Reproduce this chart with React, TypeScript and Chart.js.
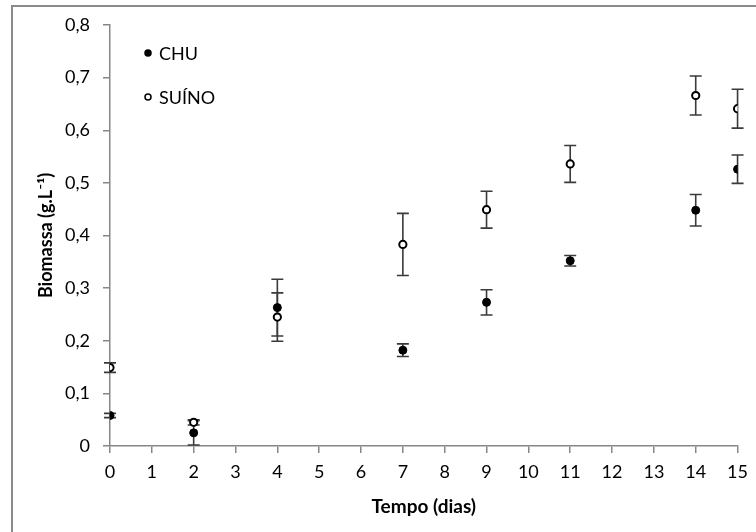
import React, { useEffect, useRef } from 'react';
import { Chart, registerables } from 'chart.js';

Chart.register(...registerables);

const days = [0, 2, 4, 7, 9, 11, 14, 15];
const chuValues = [0.058, 0.025, 0.263, 0.182, 0.273, 0.352, 0.448, 0.526];
const chuErrors = [0.004, 0.023, 0.054, 0.012, 0.024, 0.01, 0.03, 0.027];
const suinoValues = [0.149, 0.045, 0.245, 0.383, 0.449, 0.536, 0.666, 0.641];
const suinoErrors = [0.009, 0.005, 0.046, 0.059, 0.035, 0.035, 0.037, 0.037];
const seriesLabels = ['CHU', 'SUÍNO'];
const xTitle = 'Tempo (dias)';
const yTitle = 'Biomassa (g.L⁻¹)';

const FONT = 'Lato';
const AXIS_GRAY = '#878787';

const errorBarPlugin = {
  id: 'errorBars',
  beforeDatasetsDraw(chart: any) {
    const { ctx } = chart;
    const xs = chart.scales.x;
    const ys = chart.scales.y;
    ctx.save();
    ctx.strokeStyle = '#3a3a3a';
    ctx.lineWidth = 1.6;
    chart.data.datasets.forEach((ds: any) => {
      const errs: number[] = ds.errors || [];
      ds.data.forEach((p: any, i: number) => {
        const e = errs[i];
        if (!e) return;
        const px = xs.getPixelForValue(p.x);
        const top = ys.getPixelForValue(p.y + e);
        const bot = ys.getPixelForValue(Math.max(0, p.y - e));
        const cap = 6;
        ctx.beginPath();
        ctx.moveTo(px, top);
        ctx.lineTo(px, bot);
        ctx.moveTo(px - cap, top);
        ctx.lineTo(px + cap, top);
        ctx.moveTo(px - cap, bot);
        ctx.lineTo(px + cap, bot);
        ctx.stroke();
      });
    });
    ctx.restore();
  },
};

const frameAndLegendPlugin = {
  id: 'frameLegend',
  beforeDraw(chart: any) {
    const { ctx, width, height } = chart;
    ctx.save();
    ctx.fillStyle = '#ffffff';
    ctx.fillRect(0, 0, width, height);
    ctx.strokeStyle = '#8a8a8a';
    ctx.lineWidth = 2;
    ctx.beginPath();
    ctx.moveTo(12, height + 2);
    ctx.lineTo(12, 6);
    ctx.lineTo(width + 2, 6);
    ctx.stroke();
    ctx.restore();
  },
  afterDraw(chart: any) {
    const { ctx, chartArea } = chart;
    ctx.save();
    ctx.font = `18px ${FONT}`;
    ctx.textBaseline = 'middle';
    ctx.textAlign = 'left';
    chart.data.datasets.forEach((ds: any, i: number) => {
      const mx = chartArea.left + 38;
      const my = chartArea.top + 28 + i * 44;
      ctx.beginPath();
      ctx.arc(mx, my, 3, 0, Math.PI * 2);
      ctx.fillStyle = ds.backgroundColor;
      ctx.fill();
      ctx.lineWidth = 1.5;
      ctx.strokeStyle = '#000';
      ctx.stroke();
      ctx.fillStyle = '#000';
      ctx.fillText(ds.label, mx + 11, my + 1);
    });
    ctx.restore();
  },
};

export default function App() {
  const ref = useRef<HTMLCanvasElement | null>(null);

  useEffect(() => {
    if (!ref.current) return;
    Chart.defaults.font.family = FONT;
    const chart = new Chart(ref.current, {
      type: 'scatter',
      data: {
        datasets: [
          {
            label: seriesLabels[0],
            data: days.map((d, i) => ({ x: d, y: chuValues[i] })),
            errors: chuErrors,
            backgroundColor: '#000000',
            borderColor: '#000000',
            borderWidth: 1,
            pointRadius: 4,
          } as any,
          {
            label: seriesLabels[1],
            data: days.map((d, i) => ({ x: d, y: suinoValues[i] })),
            errors: suinoErrors,
            backgroundColor: '#ffffff',
            borderColor: '#000000',
            borderWidth: 2,
            pointRadius: 3.6,
          } as any,
        ],
      },
      options: {
        animation: false,
        responsive: false,
        layout: { padding: { left: 0, right: 18, top: 25, bottom: 0 } },
        plugins: {
          legend: { display: false },
          tooltip: { enabled: false },
        },
        scales: {
          x: {
            type: 'linear',
            min: 0,
            max: 15,
            afterFit: (s: any) => {
              s.height = 86;
            },
            ticks: {
              stepSize: 1,
              color: '#000',
              font: { size: 18, family: FONT },
              padding: 8,
              maxRotation: 0,
              autoSkip: false,
            },
            grid: {
              drawOnChartArea: false,
              drawTicks: true,
              tickLength: 7,
              color: AXIS_GRAY,
              lineWidth: 1.5,
            },
            border: { color: AXIS_GRAY, width: 1.5 },
            title: {
              display: true,
              text: xTitle,
              color: '#000',
              font: { size: 19, weight: 'bold', family: FONT },
              padding: { top: 0, bottom: 14 },
            },
          },
          y: {
            type: 'linear',
            min: 0,
            max: 0.8,
            afterFit: (s: any) => {
              s.width = 110;
            },
            ticks: {
              stepSize: 0.1,
              color: '#000',
              font: { size: 18, family: FONT },
              padding: 13,
              callback: (v: any) => (v === 0 ? '0' : Number(v).toFixed(1).replace('.', ',')),
            },
            grid: {
              drawOnChartArea: false,
              drawTicks: true,
              tickLength: 7,
              color: AXIS_GRAY,
              lineWidth: 1.5,
            },
            border: { color: AXIS_GRAY, width: 1.5 },
            title: {
              display: true,
              text: yTitle,
              color: '#000',
              font: { size: 18, weight: 'bold', family: FONT },
              padding: { top: 35, bottom: 0 },
            },
          },
        },
      } as any,
      plugins: [frameAndLegendPlugin, errorBarPlugin],
    });
    return () => chart.destroy();
  }, []);

  return (
    <div style={{ position: 'absolute', left: 0, top: 0, width: 756, height: 532 }}>
      <canvas ref={ref} width={756} height={532} style={{ width: 756, height: 532, display: 'block' }} />
    </div>
  );
}
